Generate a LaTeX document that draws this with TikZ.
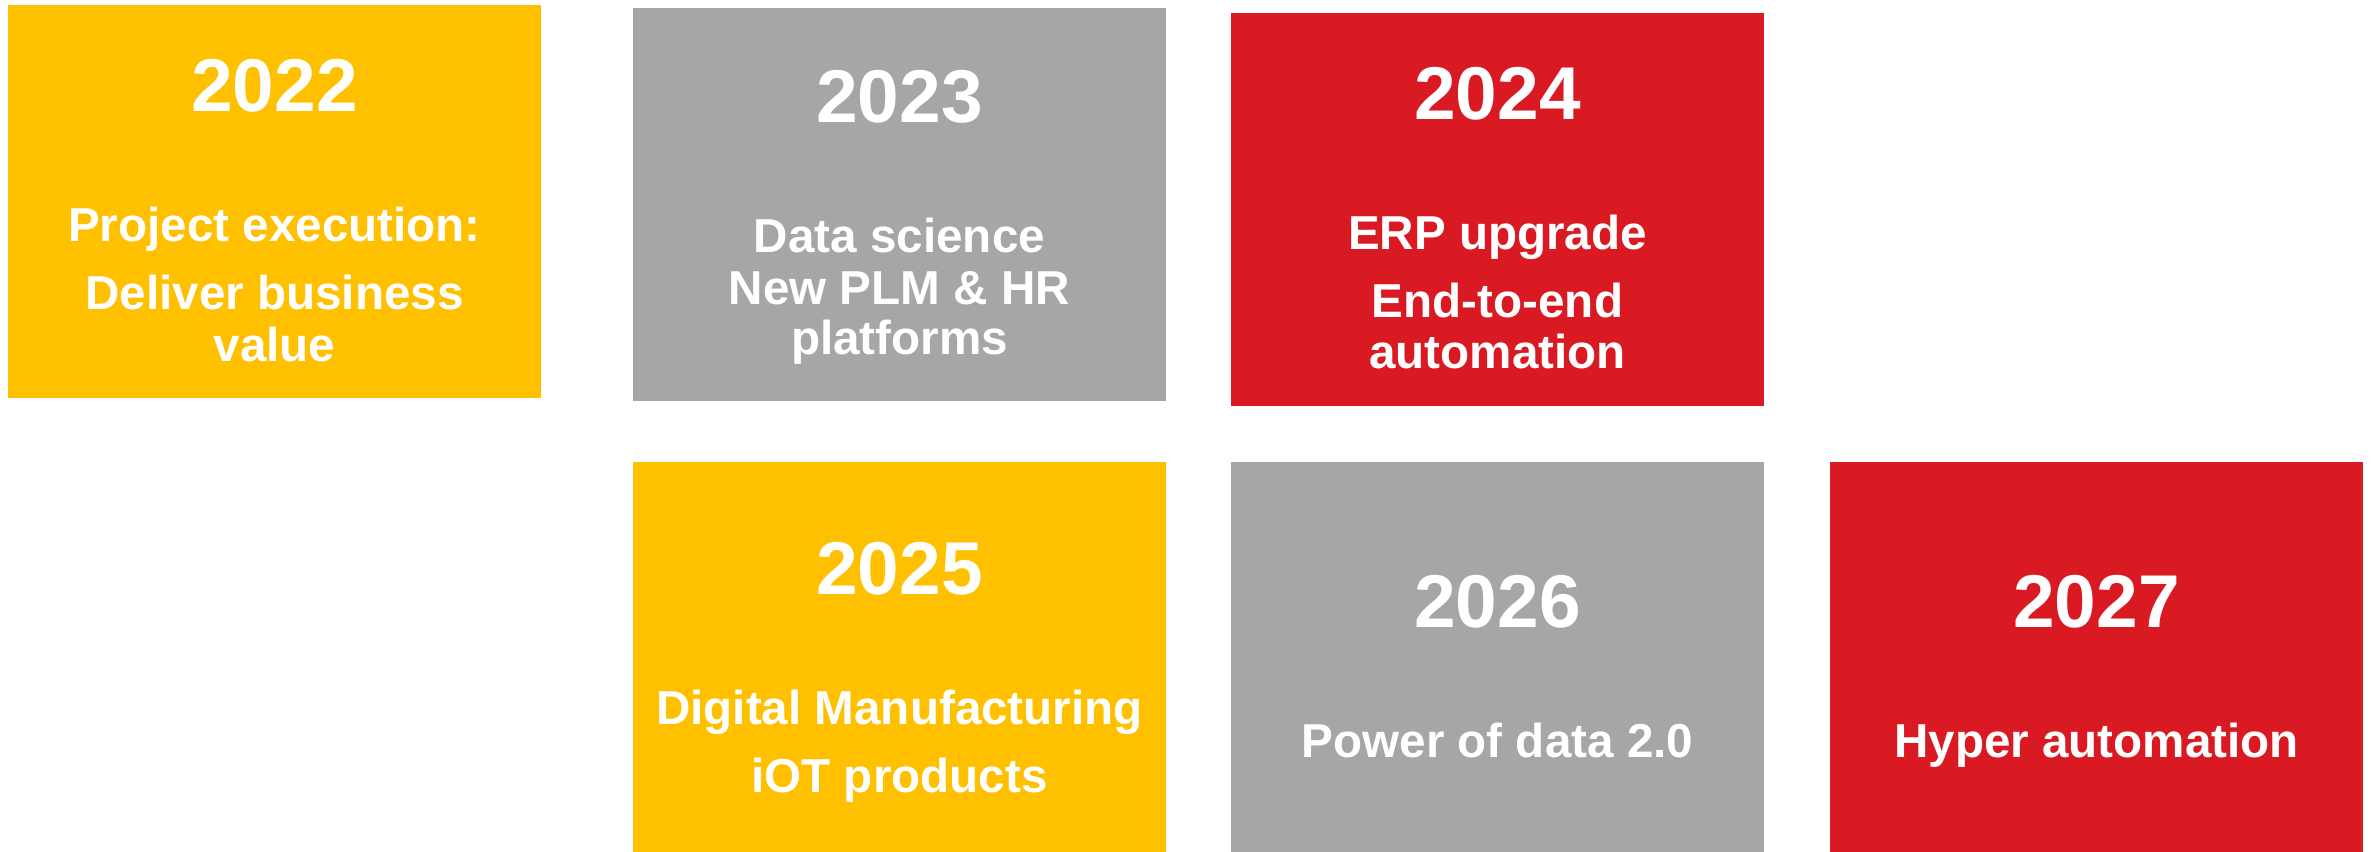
\documentclass[tikz,border=0pt]{standalone}
\usepackage{fontspec}
\setmainfont{Liberation Sans}
\usepackage{tikz}

\definecolor{cyel}{HTML}{FFC000}
\definecolor{cgry}{HTML}{A6A6A6}
\definecolor{cred}{HTML}{DA1A23}

\tikzset{
	box/.style={rectangle, draw=none, inner sep=0, minimum width=266.5pt},
	yr/.style={anchor=base, inner sep=0, text=white, font=\bfseries\fontsize{37.4}{40}\selectfont},
	txt/.style={anchor=base, inner sep=0, text=white, font=\bfseries\fontsize{23.8}{26}\selectfont}
}

\begin{document}
\begin{tikzpicture}[x=0.5pt,y=-0.5pt]
	\useasboundingbox (0,0) rectangle (2374,852);

	% top row
	\node[box, fill=cyel, minimum height=196.5pt] (b22) at (274.5,201.5){};
	\node[box, fill=cgry, minimum height=196.5pt] (b23) at (899.5,204.5){};
	\node[box, fill=cred, minimum height=196.5pt] (b24) at (1497.5,209.5){};
	% bottom row
	\node[box, fill=cyel, minimum height=195pt] (b25) at (899.5,657){};
	\node[box, fill=cgry, minimum height=195pt] (b26) at (1497.5,657){};
	\node[box, fill=cred, minimum height=195pt] (b27) at (2096.5,657){};

	% years
	\node[yr] (y22) at (274.5,111){2022};
	\node[yr] (y23) at (899.5,122){2023};
	\node[yr] (y24) at (1497.5,119){2024};
	\node[yr] (y25) at (899.5,594){2025};
	\node[yr] (y26) at (1497.5,627){2026};
	\node[yr] (y27) at (2096.5,627){2027};

	% label
	\node[txt] (t22a) at (274.5,241){Project execution:};
	\node[txt] (t22b) at (274.5,309){Deliver business};
	\node[txt] (t22c) at (274.5,361){value};

	\node[txt] (t23a) at (899.5,252){Data science};
	\node[txt] (t23b) at (899.5,304){New PLM \& HR};
	\node[txt] (t23c) at (899.5,354){platforms};

	\node[txt] (t24a) at (1497.5,249){ERP upgrade};
	\node[txt] (t24b) at (1497.5,317){End-to-end};
	\node[txt] (t24c) at (1497.5,368){automation};

	\node[txt] (t25a) at (899.5,724){Digital Manufacturing};
	\node[txt] (t25b) at (899.5,792){iOT products};

	\node[txt] (t26a) at (1497.5,757){Power of data 2.0};
	\node[txt] (t27a) at (2096.5,757){Hyper automation};
\end{tikzpicture}
\end{document}
